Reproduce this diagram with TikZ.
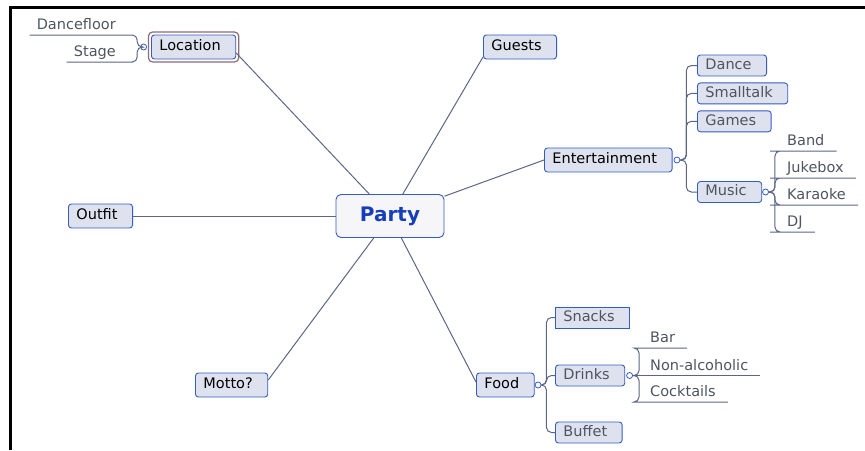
\documentclass[tikz,border=0pt]{standalone}
\usepackage{fontspec}
\setmainfont{DejaVu Sans}
\usetikzlibrary{positioning,calc}
\definecolor{topicfill}{RGB}{222,226,238}
\definecolor{topicdraw}{RGB}{52,92,196}
\definecolor{centrefill}{RGB}{246,246,248}
\definecolor{centretext}{RGB}{22,62,184}
\definecolor{linkgray}{RGB}{92,102,132}
\definecolor{subtext}{RGB}{78,84,96}
\definecolor{selframe}{RGB}{140,108,118}
\tikzset{topic/.style={draw=topicdraw, fill=topicfill, rounded corners=3, line width=0.9pt, font=\fontsize{14.5}{17}\selectfont, text height=10.5pt, text depth=3pt, minimum height=24pt, inner ysep=0pt, inner xsep=8pt, execute at end node={\hspace*{7pt}}}}
\tikzset{subtopic/.style={topic, text=subtext, minimum height=21pt}}
\tikzset{central/.style={draw=topicdraw, fill=centrefill, rounded corners=5, line width=0.9pt, text=centretext, font=\fontsize{20}{24}\selectfont\bfseries, minimum width=108pt, minimum height=43pt}}
\tikzset{leaf/.style={text=subtext, font=\fontsize{14.5}{17}\selectfont, text height=10.5pt, text depth=3pt, inner ysep=2pt, inner xsep=0pt}}
\tikzset{leafright/.style={leaf, anchor=south west, execute at begin node={\hspace*{12pt}}, execute at end node={\hspace*{12pt}}}}
\tikzset{leafleft/.style={leaf, anchor=south east, execute at begin node={\hspace*{7pt}}, execute at end node={\hspace*{12pt}}}}
\tikzset{knob/.style={circle, draw=topicdraw, fill=white, line width=0.8pt, minimum size=6pt, inner sep=0pt}}
\tikzset{link/.style={draw=linkgray, line width=1pt}}
\tikzset{branch/.style={link, rounded corners=5}}
\begin{document}
\begin{tikzpicture}[x=1pt, y=1pt]
	\useasboundingbox (0,0) rectangle (865,-450);
	\draw[line width=2.5pt] (10.5,-450) -- (10.5,-7.5) -- (865,-7.5);
	%
	\node[central] (Party) at (390,-216) {Party};
	\node[topic, anchor=west] (Location) at (151,-47) {Location};
	\node[topic, anchor=west] (Guests) at (483,-47) {Guests};
	\node[topic, anchor=west] (Entertainment) at (544,-160) {Entertainment};
	\node[topic, anchor=west] (Outfit) at (68,-216) {Outfit};
	\node[topic, anchor=west] (Motto) at (195,-385) {Motto?};
	\node[topic, anchor=west] (Food) at (476,-385) {Food};
	\draw[selframe, line width=1.2pt, rounded corners=4]
		([shift={(-2.5,2.5)}]Location.north west) rectangle ([shift={(2.5,-2.5)}]Location.south east);
	%
	\draw[link] ($(Location.east)+(0,-6)$) -- (Party);
	\draw[link] ($(Guests.west)+(0,-10)$) -- (Party);
	\draw[link] (Entertainment.west) -- (Party);
	\draw[link] (Outfit.east) -- (Party);
	\draw[link] ($(Motto.east)+(0,5)$) -- (Party);
	\draw[link] ($(Food.west)+(0,3)$) -- (Party);
	%
	\node[knob, left=4pt of Location] (LocKnob) {};
	\coordinate (locFork) at ($(LocKnob.west)+(-3,0)$);
	\node[leafleft] (Dancefloor) at (128,-35) {Dancefloor};
	\node[leafleft] (Stage) at (128,-62) {Stage};
	\draw[branch] (LocKnob.west) -- (locFork) |- (Dancefloor.south east) -- (Dancefloor.south west);
	\draw[branch] (LocKnob.west) -- (locFork) |- (Stage.south east) -- (Stage.south west);
	%
	\node[subtopic, anchor=west] (Dance) at (697,-65.5) {Dance};
	\node[subtopic, below right=6pt and 0pt of Dance.south west] (Smalltalk) {Smalltalk};
	\node[subtopic, below right=6pt and 0pt of Smalltalk.south west] (Games) {Games};
	\node[subtopic, anchor=west] (Music) at (697,-192) {Music};
	\node[knob, right=1pt of Entertainment] (EntKnob) {};
	\coordinate (entFork) at ($(EntKnob.east)+(6,0)$);
	\draw[branch] (EntKnob.east) -- (entFork) |- (Dance.west);
	\draw[branch] (EntKnob.east) -- (entFork) |- (Smalltalk.west);
	\draw[branch] (EntKnob.east) -- (entFork) |- (Games.west);
	\draw[branch] (EntKnob.east) -- (entFork) |- (Music.west);
	%
	\node[knob, right=0pt of Music] (MusicKnob) {};
	\coordinate (musicFork) at ($(MusicKnob.east)+(6,0)$);
	\node[leafright] (Band) at (775,-151) {Band};
	\node[leafright] (Jukebox) at (775,-178) {Jukebox};
	\node[leafright] (Karaoke) at (775,-205) {Karaoke};
	\node[leafright] (DJ) at (775,-232) {DJ};
	\draw[branch] (MusicKnob.east) -- (musicFork) |- (Band.south west) -- (Band.south east);
	\draw[branch] (MusicKnob.east) -- (musicFork) |- (Jukebox.south west) -- (Jukebox.south east);
	\draw[branch] (MusicKnob.east) -- (musicFork) |- (Karaoke.south west) -- (Karaoke.south east);
	\draw[branch] (MusicKnob.east) -- (musicFork) |- (DJ.south west) -- (DJ.south east);
	%
	\node[subtopic, sharp corners, anchor=west] (Snacks) at (555,-317.5) {Snacks};
	\node[subtopic, anchor=west] (Drinks) at (555,-375.5) {Drinks};
	\node[subtopic, anchor=west] (Buffet) at (555,-432.5) {Buffet};
	\node[knob, right=0pt of Food] (FoodKnob) {};
	\coordinate (foodFork) at ($(FoodKnob.east)+(5,0)$);
	\draw[branch] (FoodKnob.east) -- (foodFork) |- (Snacks.west);
	\draw[branch] (FoodKnob.east) -- (foodFork) |- (Drinks.west);
	\draw[branch] (FoodKnob.east) -- (foodFork) |- (Buffet.west);
	%
	\node[knob, right=1pt of Drinks] (DrinksKnob) {};
	\coordinate (drinksFork) at ($(DrinksKnob.east)+(6,0)$);
	\node[leafright] (Bar) at (638,-348) {Bar};
	\node[leafright] (NonAlcoholic) at (638,-375.5) {Non-alcoholic};
	\node[leafright] (Cocktails) at (638,-402) {Cocktails};
	\draw[branch] (DrinksKnob.east) -- (drinksFork) |- (Bar.south west) -- (Bar.south east);
	\draw[link] (DrinksKnob.east) -- (NonAlcoholic.south east);
	\draw[branch] (DrinksKnob.east) -- (drinksFork) |- (Cocktails.south west) -- (Cocktails.south east);
\end{tikzpicture}
\end{document}
